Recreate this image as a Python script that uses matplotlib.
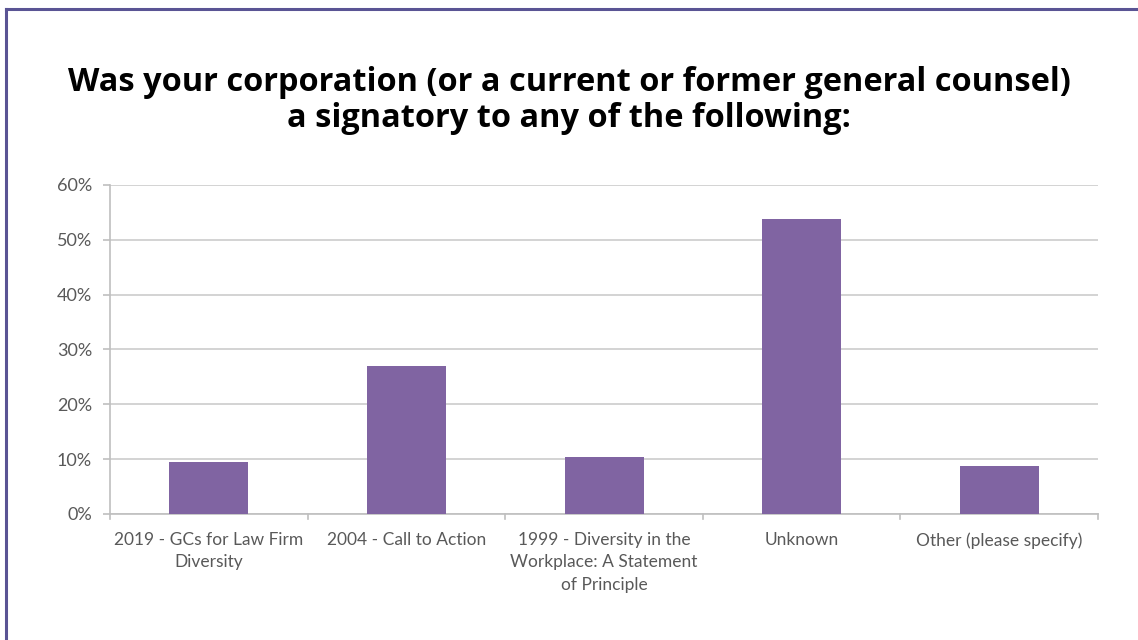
import matplotlib
matplotlib.use("Agg")
import matplotlib.pyplot as plt
from matplotlib.ticker import FuncFormatter
import numpy as np

categories = ["2019 - GCs for Law Firm\nDiversity",
              "2004 - Call to Action",
              "1999 - Diversity in the\nWorkplace: A Statement\nof Principle",
              "Unknown",
              "Other (please specify)"]
values = [9.5, 26.9, 10.4, 53.8, 8.8]
yticks = [0, 10, 20, 30, 40, 50, 60]
title = "Was your corporation (or a current or former general counsel)\na signatory to any of the following:"

bar_color = "#8064a2"
grid_color = "#d0d0d0"
text_color = "#595959"
label_font = ["Lato", "DejaVu Sans"]

fig = plt.figure(figsize=(11.38, 6.4), dpi=100)
fig.patch.set_facecolor("white")

# frame border (left and top)
fig.add_artist(plt.Line2D([0.0053, 0.0053], [0, 0.986], color="#5a5494", lw=2.2, transform=fig.transFigure))
fig.add_artist(plt.Line2D([0.0053, 1.0], [0.986, 0.986], color="#5a5494", lw=2.2, transform=fig.transFigure))

fig.text(0.5, 0.843, title, ha="center", va="center", fontsize=23.4, fontweight="bold",
         family=["Open Sans", "DejaVu Sans"], linespacing=1.1, color="black")

ax = fig.add_axes([0.0967, 0.197, 0.8682, 0.514])
x = np.arange(len(categories))
ax.bar(x, values, width=0.4, color=bar_color, zorder=3)
ax.set_xlim(-0.5, len(categories) - 0.5)
ax.set_ylim(0, 60)
ax.set_yticks(yticks)
ax.yaxis.set_major_formatter(FuncFormatter(lambda v, p: f"{int(v)}%"))
ax.grid(axis="y", color=grid_color, lw=1.3, zorder=0)
for s in ["top", "right"]:
    ax.spines[s].set_visible(False)
for s in ["left", "bottom"]:
    ax.spines[s].set_color("#bfbfbf")
    ax.spines[s].set_linewidth(1.2)
ax.tick_params(axis="y", colors="#bfbfbf", length=5, width=1.2, labelcolor=text_color,
               labelsize=13, pad=8)
ax.set_xticks(x)
ax.set_xticklabels(categories, fontsize=12.5, color=text_color, family=label_font, linespacing=1.5)
ax.tick_params(axis="x", length=0, pad=13)
for lbl in ax.get_yticklabels():
    lbl.set_family(label_font)
# category boundary ticks
bounds = np.arange(len(categories) + 1) - 0.5
for b in bounds:
    ax.plot([b, b], [0, -1.0], color="#bfbfbf", lw=1.2, clip_on=False, zorder=2)

fig.savefig("out.png", dpi=100, facecolor="white")
